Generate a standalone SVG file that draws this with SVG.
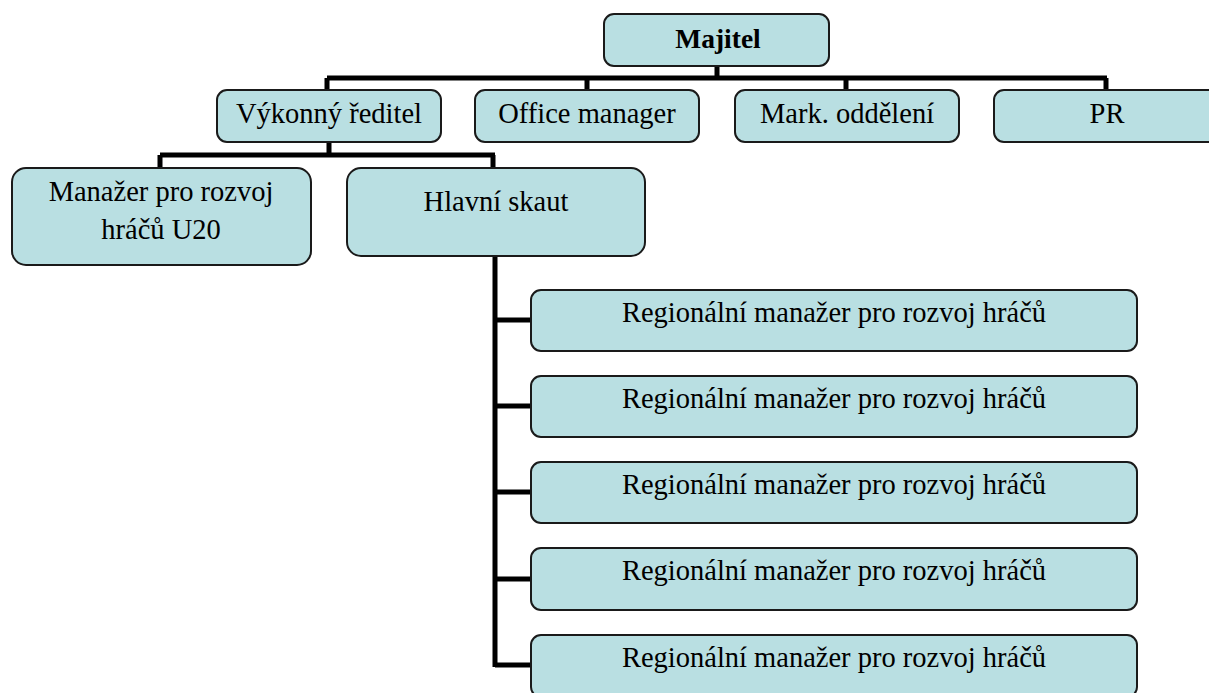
<svg xmlns="http://www.w3.org/2000/svg" width="1209" height="693" viewBox="0 0 1209 693">
<style>
.box{fill:#b9dfe2;stroke:#1a1a1a;stroke-width:2}
.t{font-family:"Liberation Serif","Times New Roman",serif;font-size:28.5px;fill:#000;text-anchor:middle}
.b{font-weight:bold;font-size:27.5px}
.c{stroke:#000;stroke-width:5;fill:none}
</style>
<rect width="1209" height="693" fill="#fff"/>
<g id="connectors">
<path class="c" d="M717 66V78M327 78H1107M327 78V90M587 78V90M846 78V90M1106 78V90"/>
<path class="c" d="M329 142V155M160 155H495M160 155V168M493 155V168"/>
<path class="c" d="M495 256V667M495 320H531M495 406H531M495 492H531M495 579H531M495 665H531"/>
</g>
<g id="majitel"><rect class="box" x="604" y="14" width="225" height="52" rx="10"/><text class="t b" x="718" y="48">Majitel</text></g>
<g id="vykonny"><rect class="box" x="217" y="90" width="224" height="52" rx="10"/><text class="t" x="329" y="123">Výkonný ředitel</text></g>
<g id="office"><rect class="box" x="475" y="90" width="224" height="52" rx="10"/><text class="t" x="587" y="123">Office manager</text></g>
<g id="mark"><rect class="box" x="735" y="90" width="224" height="52" rx="10"/><text class="t" x="847" y="123">Mark. oddělení</text></g>
<g id="pr"><rect class="box" x="994" y="90" width="226" height="52" rx="10"/><text class="t" x="1107" y="123">PR</text></g>
<g id="manazer"><rect class="box" x="12" y="168" width="299" height="97" rx="14"/><text class="t" x="161" y="201">Manažer pro rozvoj</text><text class="t" x="161" y="239">hráčů U20</text></g>
<g id="skaut"><rect class="box" x="347" y="168" width="298" height="88" rx="14"/><text class="t" x="496" y="211">Hlavní skaut</text></g>
<g id="reg1"><rect class="box" x="531" y="290" width="606" height="61" rx="10"/><text class="t" x="834" y="322">Regionální manažer pro rozvoj hráčů</text></g>
<g id="reg2"><rect class="box" x="531" y="376" width="606" height="61" rx="10"/><text class="t" x="834" y="408">Regionální manažer pro rozvoj hráčů</text></g>
<g id="reg3"><rect class="box" x="531" y="462" width="606" height="61" rx="10"/><text class="t" x="834" y="494">Regionální manažer pro rozvoj hráčů</text></g>
<g id="reg4"><rect class="box" x="531" y="548" width="606" height="62" rx="10"/><text class="t" x="834" y="580">Regionální manažer pro rozvoj hráčů</text></g>
<g id="reg5"><rect class="box" x="531" y="635" width="606" height="62" rx="10"/><text class="t" x="834" y="667">Regionální manažer pro rozvoj hráčů</text></g>
</svg>
